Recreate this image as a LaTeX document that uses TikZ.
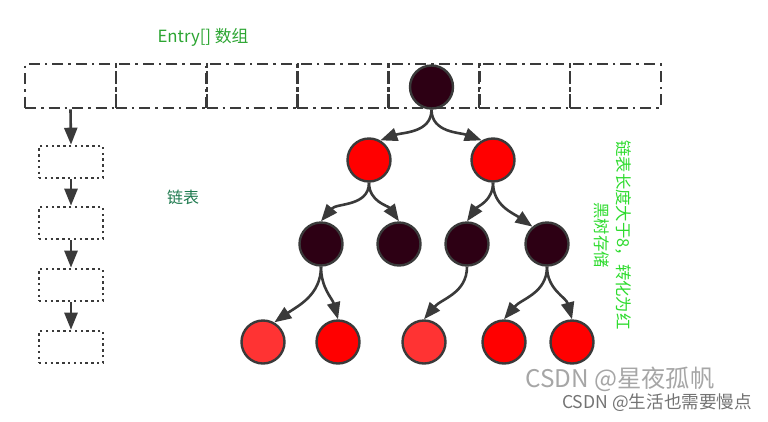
\documentclass[tikz,border=0pt]{standalone}
\usepackage{fontspec}
\setmainfont{Noto Sans CJK SC}
\usetikzlibrary{arrows.meta}
\definecolor{linegray}{HTML}{3A3A3A}
\definecolor{blacknode}{HTML}{2D0014}
\definecolor{rednode}{HTML}{FF0000}
\definecolor{lightred}{HTML}{FF3333}
\definecolor{titlegreen}{HTML}{2CA532}
\definecolor{listgreen}{HTML}{1F7A4F}
\definecolor{notegreen}{HTML}{2EDB2E}
\tikzset{
  cell/.style={draw=linegray,line width=2.6pt,dash pattern=on 11pt off 5pt on 2.5pt off 5pt,minimum width=91pt,minimum height=44pt,inner sep=0pt},
  listbox/.style={draw=linegray,line width=2.6pt,dash pattern=on 2.4pt off 3.4pt,minimum width=64pt,minimum height=32pt,inner sep=0pt},
  tree/.style={circle,draw=linegray,line width=2.4pt,minimum size=43pt,inner sep=0pt},
  blk/.style={tree,fill=blacknode},
  red/.style={tree,fill=rednode},
  lred/.style={tree,fill=lightred},
  link/.style={draw=linegray,line width=2.6pt,-{Triangle[length=17pt,width=13pt]}}
}
\begin{document}
\begin{tikzpicture}[x=1pt,y=-1pt]
\useasboundingbox (0,0) rectangle (768,421);
\foreach \i in {0,...,6}
\node[cell] (c\i) at ({70.5+90.8*\i},86) {};
% linked list
\node[listbox] (a) at (71,162) {};
\node[listbox] (b) at (71,223) {};
\node[listbox] (d) at (71,285) {};
\node[listbox] (e) at (71,347) {};
\draw[link] (c0.south) -- (a.north);
\draw[link] (a.south) -- (b.north);
\draw[link] (b.south) -- (d.north);
\draw[link] (d.south) -- (e.north);
% tree
\node[blk] (root) at (431.5,87) {};
\node[red] (n1) at (369,160) {};
\node[red] (n2) at (493,160) {};
\node[blk] (n11) at (321,244) {};
\node[blk] (n12) at (399,244) {};
\node[blk] (n21) at (467,244) {};
\node[blk] (n22) at (547,244) {};
\node[lred] (n111) at (263,342) {};
\node[red] (n112) at (338,342) {};
\node[lred] (n211) at (424,342) {};
\node[red] (n221) at (504,342) {};
\node[red] (n222) at (572,342) {};
\foreach \from/\to/\anc/\ang in {root/n1/60/20,root/n2/120/160,n1/n11/north/50,n1/n12/north/125,n2/n21/north/55,n2/n22/130/145,n11/n111/60/35,n11/n112/north/105,n21/n211/north/50,n22/n221/north/50,n22/n222/north/105}
\draw[link] (\from.south) to[out=-90,in=\ang] (\to.\anc);
% labels
\node[text=titlegreen,font=\fontsize{16.8pt}{18pt}\selectfont] (title) at (203,37) {Entry[] 数组};
\node[text=listgreen,font=\fontsize{16pt}{18pt}\selectfont] (listlabel) at (183,197) {链表};
\node[text=notegreen,rotate=-90,align=center,font=\fontsize{16.4pt}{22pt}\selectfont] (note) at (613,235) {链表长度大于8，转化为红\\黑树存储};
\node[text=black!35,anchor=west,inner sep=0pt,font=\fontsize{24.3pt}{26pt}\selectfont] (mark1) at (525,379) {CSDN @星夜孤帆};
\node[text=black!55,anchor=west,inner sep=0pt,font=\fontsize{17.6pt}{19pt}\selectfont] (mark2) at (562,403) {CSDN @生活也需要慢点};
\end{tikzpicture}
\end{document}
